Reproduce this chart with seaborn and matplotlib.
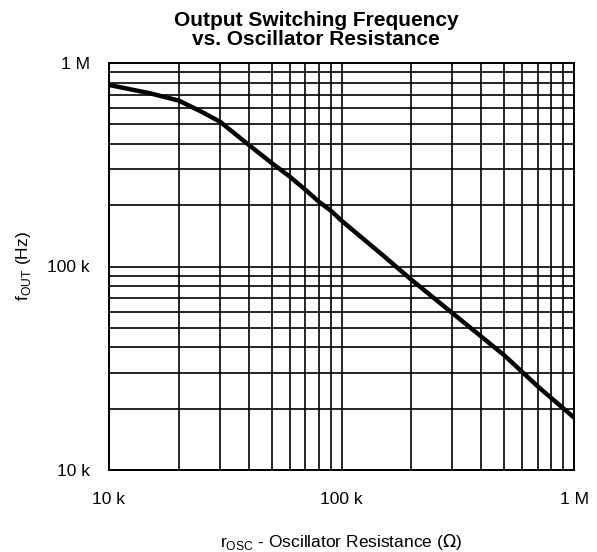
import numpy as np
import pandas as pd
import matplotlib
matplotlib.use("Agg")
import matplotlib.pyplot as plt
import seaborn as sns
from matplotlib.ticker import LogLocator, FixedLocator, FixedFormatter, NullFormatter

# values (ohms -> Hz)
r_osc = [10e3, 15e3, 20e3, 25e3, 30e3, 40e3, 50e3, 60e3, 70e3, 80e3, 90e3,
         100e3, 150e3, 200e3, 300e3, 500e3, 700e3, 1e6]
f_out = [780e3, 710e3, 653e3, 576e3, 515e3, 395e3, 323e3, 276e3, 238e3, 208e3, 188e3,
         168e3, 114e3, 86e3, 59e3, 36.7e3, 25.7e3, 18.1e3]

x_ticks = [1e4, 1e5, 1e6]
x_labels = ["10 k", "100 k", "1 M"]
y_ticks = [1e4, 1e5, 1e6]
y_labels = ["10 k", "100 k", "1 M"]

df = pd.DataFrame({"r": r_osc, "f": f_out})

sns.set_style("white")
plt.rcParams["font.family"] = ["Liberation Sans", "DejaVu Sans"]
plt.rcParams["text.color"] = "black"
plt.rcParams["axes.labelcolor"] = "black"

fig = plt.figure(figsize=(5.97, 5.52), dpi=100)
ax = fig.add_axes([109 / 597, 1 - 470 / 552, 465 / 597, 407 / 552])

sns.lineplot(data=df, x="r", y="f", ax=ax, color="black", linewidth=3.2)

ax.set_xscale("log")
ax.set_yscale("log")
ax.set_xlim(1e4, 1e6)
ax.set_ylim(1e4, 1e6)

ax.xaxis.set_major_locator(FixedLocator(x_ticks))
ax.xaxis.set_major_formatter(FixedFormatter(x_labels))
ax.yaxis.set_major_locator(FixedLocator(y_ticks))
ax.yaxis.set_major_formatter(FixedFormatter(y_labels))
ax.xaxis.set_minor_locator(LogLocator(base=10, subs=np.arange(2, 10)))
ax.yaxis.set_minor_locator(LogLocator(base=10, subs=np.arange(2, 10)))
ax.xaxis.set_minor_formatter(NullFormatter())
ax.yaxis.set_minor_formatter(NullFormatter())

ax.grid(True, which="both", color="black", linewidth=1.2)
ax.tick_params(which="both", length=0, labelsize=12.5, colors="black")
ax.tick_params(axis="x", pad=16)
ax.tick_params(axis="y", pad=14)
for s in ax.spines.values():
    s.set_color("black")
    s.set_linewidth(1.4)

ax.set_xlabel(r"r$_{\mathregular{OSC}}$ - Oscillator Resistance ($\Omega$)", fontsize=12.5, labelpad=18)
ax.set_ylabel(r"f$_{\mathregular{OUT}}$ (Hz)", fontsize=12.5, labelpad=10)
fig.text(316 / 597, 1 - 30 / 552, "Output Switching Frequency\nvs. Oscillator Resistance",
         ha="center", va="center", fontsize=15, fontweight="heavy", linespacing=1.05)

fig.savefig("out.png", dpi=100)
